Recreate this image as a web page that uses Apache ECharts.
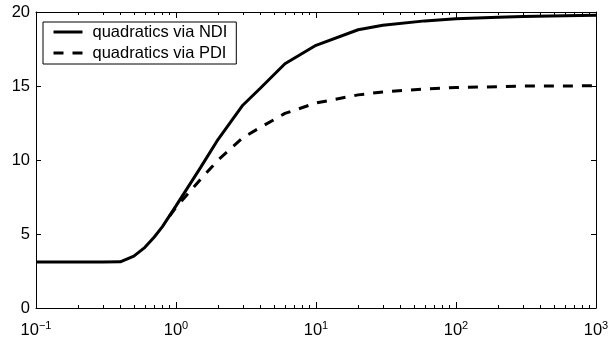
<!DOCTYPE html>
<html>
<head>
<meta charset="utf-8">
<script src="https://cdn.jsdelivr.net/npm/echarts@6/dist/echarts.min.js"></script>
<style>
  html, body { margin: 0; padding: 0; background: #fff; }
  #chart { width: 615px; height: 337px; }
</style>
</head>
<body>
<div id="chart"></div>
<script>
const ndiX = [0.1, 0.2, 0.3, 0.4, 0.5, 0.6, 0.7, 0.8, 1, 1.5, 2, 3, 4, 6, 10, 20, 30, 60, 100, 200, 300, 600, 1000];
const ndiY = [3.1, 3.1, 3.1, 3.12, 3.5, 4.1, 4.8, 5.5, 6.9, 9.5, 11.4, 13.7, 14.85, 16.5, 17.75, 18.8, 19.1, 19.4, 19.55, 19.65, 19.7, 19.75, 19.78];
const pdiX = [0.9, 1, 1.5, 2, 3, 4, 6, 10, 20, 30, 60, 100, 200, 300, 600, 1000];
const pdiY = [6.2, 6.8, 8.7, 10.0, 11.5, 12.2, 13.15, 13.85, 14.4, 14.6, 14.8, 14.9, 14.95, 15.0, 15.0, 15.02];
const majorTicks = [0.1, 1, 10, 100, 1000];
const minorTicks = [0.2, 0.3, 0.4, 0.5, 0.6, 0.7, 0.8, 0.9, 2, 3, 4, 5, 6, 7, 8, 9,
  20, 30, 40, 50, 60, 70, 80, 90, 200, 300, 400, 500, 600, 700, 800, 900];
const yTicks = [0, 5, 10, 15, 20];

const FONT = "Liberation Sans";
const chart = echarts.init(document.getElementById("chart"));

const logAxis = (position, ticks, len, extra) => Object.assign({
  type: "log",
  logBase: 10,
  min: 0.1,
  max: 1000,
  position: position,
  axisLine: { show: false },
  axisTick: { inside: true, length: len, customValues: ticks, lineStyle: { color: "#000", width: 1 } },
  axisLabel: { show: false },
  splitLine: { show: false },
}, extra || {});

const valAxis = (position, labels) => ({
  type: "value",
  min: yTicks[0],
  max: yTicks[yTicks.length - 1],
  interval: 5,
  position: position,
  axisLine: { show: true, lineStyle: { color: "#000", width: 1 } },
  axisTick: { show: true, inside: true, length: 5, lineStyle: { color: "#000" } },
  axisLabel: { show: labels, color: "#000", fontSize: 16.5, fontFamily: FONT, margin: 6 },
  splitLine: { show: false },
});

const options = {
  backgroundColor: "#fff",
  animation: false,
  grid: { left: 36, right: 19, top: 12, bottom: 29, outerBoundsMode: "none" },
  legend: {
    left: 43,
    top: 22,
    orient: "vertical",
    borderColor: "#000",
    borderWidth: 1,
    borderRadius: 0,
    padding: [1, 9, 2, 9],
    itemGap: 3,
    itemWidth: 29,
    itemHeight: 14,
    backgroundColor: "#fff",
    itemStyle: { opacity: 0, color: "transparent", borderWidth: 0 },
    lineStyle: { width: 3 },
    textStyle: { color: "#000", fontSize: 16.5, lineHeight: 18, fontFamily: FONT, padding: [0, 0, 0, 5] },
    data: ["quadratics via NDI", "quadratics via PDI"],
  },
  xAxis: [
    logAxis("bottom", majorTicks, 6, {
      axisLine: { show: true, lineStyle: { color: "#000", width: 1 } },
      axisLabel: {
        show: true,
        customValues: majorTicks,
        margin: 12,
        color: "#000",
        fontFamily: FONT,
        formatter: (v) => {
          const e = Math.round(Math.log10(v));
          return "{b|10}{s|" + (e < 0 ? "\u2212" + (-e) : e) + "}";
        },
        rich: {
          b: { fontSize: 16.5, fontFamily: FONT, color: "#000", verticalAlign: "bottom" },
          s: { fontSize: 11, fontFamily: FONT, color: "#000", padding: [0, 0, 8, 0], verticalAlign: "bottom" },
        },
      },
    }),
    logAxis("bottom", minorTicks, 3),
    logAxis("top", majorTicks, 6, { axisLine: { show: true, lineStyle: { color: "#000", width: 1 } } }),
    logAxis("top", minorTicks, 3),
  ],
  yAxis: [valAxis("left", true), valAxis("right", false)],
  series: [
    {
      name: "quadratics via PDI",
      type: "line",
      xAxisIndex: 0,
      yAxisIndex: 0,
      showSymbol: false,
      symbol: "none",
      color: "#000",
      lineStyle: { color: "#000", width: 3, type: [10, 9] },
      data: pdiX.map((x, i) => [x, pdiY[i]]),
    },
    {
      name: "quadratics via NDI",
      type: "line",
      xAxisIndex: 0,
      yAxisIndex: 0,
      showSymbol: false,
      symbol: "none",
      color: "#000",
      lineStyle: { color: "#000", width: 3 },
      data: ndiX.map((x, i) => [x, ndiY[i]]),
    },
  ],
};
chart.setOption(options);
</script>
</body>
</html>
